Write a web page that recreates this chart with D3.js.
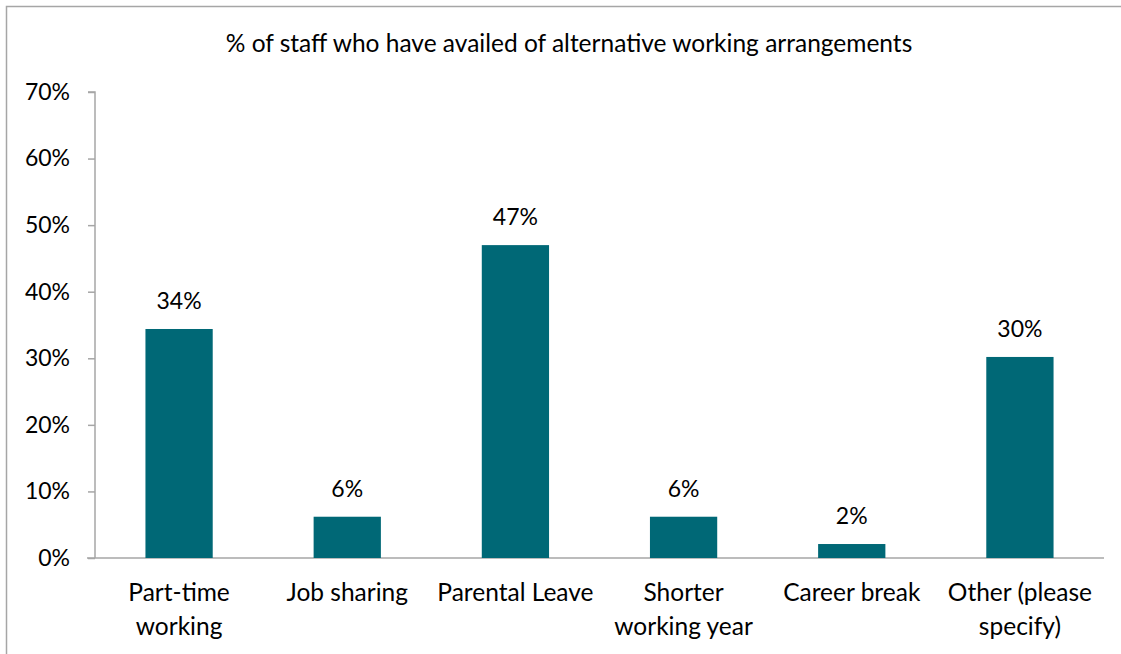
<!DOCTYPE html>
<html>
<head>
<meta charset="utf-8">
<script src="https://cdn.jsdelivr.net/npm/d3@7"></script>
<style>
  body { margin: 0; background: #fff; }
  text { font-family: Lato, "Open Sans", sans-serif; fill: #000; }
</style>
</head>
<body>
<div id="container"></div>
<script>
// chart data
let categories = [["Part-time", "working"], ["Job sharing"], ["Parental Leave"], ["Shorter", "working year"], ["Career break"], ["Other (please", "specify)"]];
let values = [34.4, 6.2, 47, 6.2, 2.1, 30.2];
let valueLabels = ["34%", "6%", "47%", "6%", "2%", "30%"];
let yTicks = [0, 10, 20, 30, 40, 50, 60, 70];
let title = "% of staff who have availed of alternative working arrangements";

let svg = d3.select("#container")
  .append("svg")
    .attr("width", 1121)
    .attr("height", 654)
;

// chart frame (only top and left are visible in the picture)
svg.append("rect")
  .attr("x", 6.5).attr("y", 6.5)
  .attr("width", 1130).attr("height", 660)
  .attr("fill", "none")
  .attr("stroke", "#a6a6a6")
  .attr("stroke-width", 1.5)
;

let plotLeft = 95, plotRight = 1104, plotTop = 92, plotBottom = 558;

let x = d3.scaleBand()
  .domain(d3.range(categories.length))
  .range([plotLeft, plotRight])
  .paddingInner(0.6)
  .paddingOuter(0.3);

let y = d3.scaleLinear()
  .domain([0, 70])
  .range([plotBottom, plotTop]);

svg.append("text")
  .attr("x", 569)
  .attr("y", 52)
  .attr("text-anchor", "middle")
  .style("font-size", "24.5px")
  .text(title);

// y axis
let yAxis = svg.append("g")
  .attr("transform", "translate(" + plotLeft + ",0)")
  .call(d3.axisLeft(y).tickValues(yTicks).tickSize(7).tickPadding(18).tickFormat(d => d + "%"));
yAxis.selectAll("path, line").attr("stroke", "#a6a6a6").attr("stroke-width", 1.5);
yAxis.select("path").attr("d", "M-7," + plotTop + "H0V" + plotBottom);
yAxis.selectAll("text").style("font-size", "23px").attr("fill", "#000");

// x axis baseline
svg.append("line")
  .attr("x1", plotLeft - 8).attr("x2", plotRight)
  .attr("y1", plotBottom).attr("y2", plotBottom)
  .attr("stroke", "#a6a6a6")
  .attr("stroke-width", 1.5);

let bars = svg.selectAll(".bar").data(values).enter()
  .append("g")
    .attr("class", "bar");

bars.append("rect")
  .attr("x", (d, i) => x(i))
  .attr("y", d => y(d))
  .attr("width", x.bandwidth())
  .attr("height", d => plotBottom - y(d))
  .attr("fill", "#006876");

bars.append("text")
  .attr("x", (d, i) => x(i) + x.bandwidth() / 2)
  .attr("y", d => y(d) - 20)
  .attr("text-anchor", "middle")
  .style("font-size", "23px")
  .text((d, i) => valueLabels[i]);

// category labels
let cats = svg.selectAll(".cat").data(categories).enter()
  .append("text")
    .attr("class", "cat")
    .attr("x", (d, i) => x(i) + x.bandwidth() / 2)
    .attr("y", 601)
    .attr("text-anchor", "middle")
    .style("font-size", "24.5px");

cats.selectAll("tspan").data(d => d).enter()
  .append("tspan")
    .attr("x", function() { return this.parentNode.getAttribute("x"); })
    .attr("dy", (d, i) => i == 0 ? 0 : 34)
    .text(d => d);
</script>
</body>
</html>
